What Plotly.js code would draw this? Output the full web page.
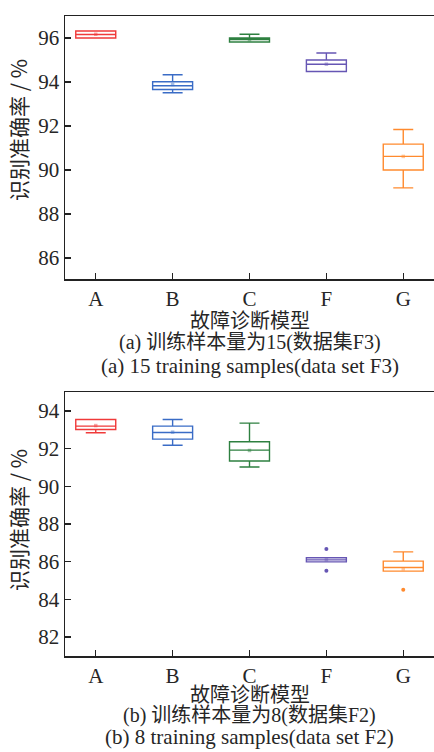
<!DOCTYPE html>
<html><head><meta charset="utf-8">
<script src="https://cdn.plot.ly/plotly-3.0.1.min.js"></script>
<style>body{margin:0;padding:0;background:#fff}#c{width:434px;height:752px}</style>
</head><body><div id="c"></div>
<script>
const categories = ['A','B','C','F','G'];
const colors = ['#f03a3a','#3a6cc6','#2e8040','#6656b4','#ff8a2e'];

// (a) 15 training samples (data set F3)
const aLower  = [96.00, 93.51, 95.82, 94.48, 89.19];
const aQ1     = [96.00, 93.66, 95.82, 94.48, 90.00];
const aMedian = [96.16, 93.83, 95.93, 94.81, 90.62];
const aQ3     = [96.32, 94.01, 96.00, 95.00, 91.18];
const aUpper  = [96.32, 94.33, 96.17, 95.32, 91.84];
const aMean   = [96.17, 93.89, 95.92, 94.81, 90.62];

// (b) 8 training samples (data set F2)
const bLower  = [92.84, 92.18, 91.02, 85.99, 85.50];
const bQ1     = [93.01, 92.50, 91.34, 85.99, 85.50];
const bMedian = [93.19, 92.85, 91.92, 86.10, 85.69];
const bQ3     = [93.54, 93.19, 92.36, 86.21, 86.03];
const bUpper  = [93.54, 93.54, 93.35, 86.21, 86.52];
const bMean   = [93.22, 92.87, 91.90, 86.10, 85.62];
const bOutCat = ['F','F','G'];
const bOutVal = [86.68, 85.52, 84.51];

const yTicksA = [86,88,90,92,94,96];
const yTicksB = [82,84,86,88,90,92,94];

const serif = 'Liberation Serif, Times New Roman, serif';
const cjk = 'Noto Sans CJK SC, sans-serif';
const txt = '#262626';

const traces = [];
function addBoxes(lo,q1,md,q3,up,mean,xa,ya){
  categories.forEach((c,i)=>{
    traces.push({type:'box', x:[c], q1:[q1[i]], median:[md[i]], q3:[q3[i]],
      lowerfence:[lo[i]], upperfence:[up[i]], xaxis:xa, yaxis:ya,
      width:0.52, whiskerwidth:0.5, fillcolor:'rgba(0,0,0,0)',
      line:{color:colors[i], width:1.4}, boxpoints:false, showlegend:false, hoverinfo:'skip'});
    traces.push({type:'scatter', mode:'markers', x:[c], y:[mean[i]], xaxis:xa, yaxis:ya,
      marker:{symbol:'square', size:3.5, color:colors[i], opacity:0.45}, showlegend:false, hoverinfo:'skip'});
  });
}
addBoxes(aLower,aQ1,aMedian,aQ3,aUpper,aMean,'x','y');
addBoxes(bLower,bQ1,bMedian,bQ3,bUpper,bMean,'x2','y2');
traces.push({type:'scatter', mode:'markers', x:bOutCat, y:bOutVal, xaxis:'x2', yaxis:'y2',
  marker:{size:4, color:bOutCat.map(c=>colors[categories.indexOf(c)])}, showlegend:false, hoverinfo:'skip'});

const H = 752, L = 65, W = 369;
const py = p => 1 - p/H;
const px = p => (p - L)/W;

const xBase = {type:'category', categoryorder:'array', categoryarray:categories, range:[-0.4,4.4],
  showline:true, linecolor:'#222', linewidth:1.5, mirror:true, ticks:'inside', ticklen:6, tickwidth:1.3,
  tickcolor:'#222', showgrid:false, zeroline:false, tickfont:{family:serif, size:21, color:txt}};
const yBase = {showline:true, linecolor:'#222', linewidth:1.5, ticks:'inside', ticklen:6, tickwidth:1.3,
  tickcolor:'#222', showgrid:false, zeroline:false, tickfont:{family:serif, size:21, color:txt}, tickmode:'array'};

function ann(text, x, y, font, size, angle){
  return {text:text, xref:'paper', yref:'paper', x:px(x), y:py(y), xanchor:'center', yanchor:'middle',
    textangle:angle||0, showarrow:false, font:{family:font, size:size, color:txt}};
}

const layout = {
  width:434, height:752, margin:{l:L, r:0, t:0, b:0},
  paper_bgcolor:'#fff', plot_bgcolor:'#fff', boxmode:'overlay',
  xaxis: Object.assign({}, xBase, {anchor:'y', domain:[0,1]}),
  yaxis: Object.assign({}, yBase, {range:[85.05,97], tickvals:yTicksA, domain:[py(279), py(16)], anchor:'x'}),
  xaxis2: Object.assign({}, xBase, {anchor:'y2', domain:[0,1]}),
  yaxis2: Object.assign({}, yBase, {range:[81,95], tickvals:yTicksB, domain:[py(656), py(392)], anchor:'x2'}),
  annotations:[
    ann('识别准确率 / %', 18, 130, cjk, 21, -90),
    ann('识别准确率 / %', 18, 520, cjk, 21, -90),
    ann('故障诊断模型', 250, 320, cjk, 20),
    ann('(a) 训练样本量为15(数据集F3)', 250, 343, serif+', '+cjk, 20),
    ann('(a) 15 training samples(data set F3)', 250, 366, serif, 21),
    ann('故障诊断模型', 250, 693, cjk, 20),
    ann('(b) 训练样本量为8(数据集F2)', 250, 715, serif+', '+cjk, 20),
    ann('(b) 8 training samples(data set F2)', 250, 737, serif, 21)
  ]
};
Plotly.newPlot('c', traces, layout, {staticPlot:true, displayModeBar:false});
</script></body></html>
